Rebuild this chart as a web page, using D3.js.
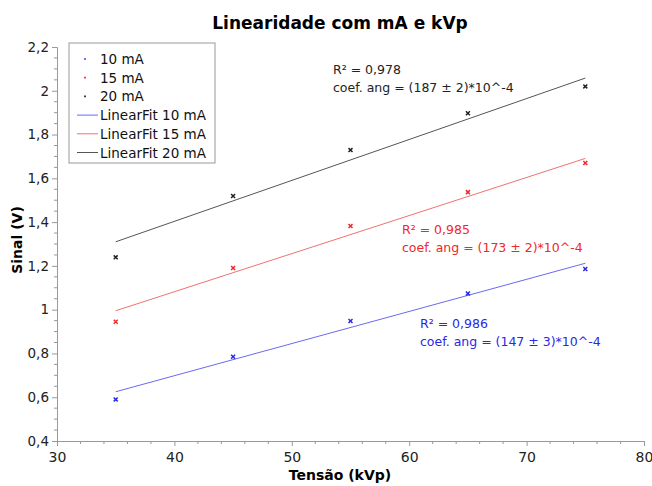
<!DOCTYPE html>
<html><head><meta charset="utf-8">
<script src="https://cdn.jsdelivr.net/npm/d3@7"></script>
<style>body{margin:0;background:#fff;} svg{display:block;}</style>
</head><body>
<svg id="c" width="652" height="486"></svg>
<script>
const kvp = [35, 45, 55, 65, 75];
const sig10 = [0.590, 0.785, 0.948, 1.074, 1.186];
const sig15 = [0.945, 1.190, 1.382, 1.537, 1.670];
const sig20 = [1.239, 1.519, 1.729, 1.897, 2.020];
const fitX = [35, 75];
const fit10 = [0.625, 1.212];
const fit15 = [0.995, 1.691];
const fit20 = [1.310, 2.058];
const seriesNames = ["10 mA", "15 mA", "20 mA"];
const fitNames = ["LinearFit 10 mA", "LinearFit 15 mA", "LinearFit 20 mA"];
const r2Labels = ["R² = 0,986", "R² = 0,985", "R² = 0,978"];
const coefLabels = ["coef. ang = (147 ± 3)*10^-4", "coef. ang = (173 ± 2)*10^-4", "coef. ang = (187 ± 2)*10^-4"];
const xTicks = [30, 40, 50, 60, 70, 80];
const yTicks = [0.4, 0.6, 0.8, 1, 1.2, 1.4, 1.6, 1.8, 2, 2.2];

const colors = ["#2828e8", "#f02828", "#222222"];
const lineColors = ["#6a6af0", "#f27070", "#555555"];
const font = "'DejaVu Sans', Verdana, sans-serif";

const svg = d3.select("#c");
const x = d3.scaleLinear().domain([30, 80]).range([57, 644]);
const y = d3.scaleLinear().domain([0.4, 2.2]).range([441, 47]);
const fmt = d => String(d).replace(".", ",");

// Title
svg.append("text").attr("x", 340).attr("y", 29).attr("text-anchor", "middle")
  .style("font-family", font).style("font-weight", "bold").style("font-size", "17px").text("Linearidade com mA e kVp");

// X axis
const xAxis = d3.axisBottom(x).tickValues(xTicks).tickFormat(fmt).tickSize(5).tickPadding(6);
const gx = svg.append("g").attr("transform", "translate(0,441)").call(xAxis);
const xMinor = d3.range(30, 80.01, 2).filter(v => v % 10 !== 0);
gx.selectAll(".minor").data(xMinor).enter().append("line").attr("class", "minor")
  .attr("x1", d => x(d)).attr("x2", d => x(d)).attr("y1", 0).attr("y2", 3);
// Y axis
const yAxis = d3.axisLeft(y).tickValues(yTicks).tickFormat(fmt).tickSize(5).tickPadding(3);
const gy = svg.append("g").attr("transform", "translate(57,0)").call(yAxis);
const yMinor = d3.range(0.4, 2.2001, 0.05).filter(v => Math.abs(Math.round(v * 5) - v * 5) > 1e-6);
gy.selectAll(".minor").data(yMinor).enter().append("line").attr("class", "minor")
  .attr("x1", 0).attr("x2", -3).attr("y1", d => y(d)).attr("y2", d => y(d));
[gx, gy].forEach(g => {
  g.select(".domain").attr("stroke", "#999");
  g.selectAll("line").attr("stroke", "#999");
  g.selectAll("text").style("font-family", font).style("font-size", "13.5px").attr("fill", "#222");
});
gx.selectAll(".tick text").style("font-size", "14px");

// Axis titles
svg.append("text").attr("x", 340).attr("y", 480).attr("text-anchor", "middle")
  .style("font-family", font).style("font-weight", "bold").style("font-size", "14px").text("Tensão (kVp)");
svg.append("text").attr("transform", "translate(22,240) rotate(-90)").attr("text-anchor", "middle")
  .style("font-family", font).style("font-weight", "bold").style("font-size", "14px").text("Sinal (V)");

// Fits
const fits = [fit10, fit15, fit20];
const line = d3.line().x(d => x(d[0])).y(d => y(d[1]));
fits.forEach((f, i) => {
  svg.append("path").datum(fitX.map((xv, j) => [xv, f[j]])).attr("d", line)
    .attr("fill", "none").attr("stroke", lineColors[i]).attr("stroke-width", 1);
});
// Points
const sigs = [sig10, sig15, sig20];
const sym = d3.symbol().type(d3.symbolX).size(12);
sigs.forEach((s, i) => {
  svg.append("g").selectAll("path").data(kvp.map((k, j) => [k, s[j]])).enter().append("path")
    .attr("d", sym).attr("transform", d => `translate(${x(d[0])},${y(d[1])})`)
    .attr("stroke", colors[i]).attr("stroke-width", 1.5).attr("fill", "none");
});

// Annotations
const annPos = [[420, 328], [402, 234], [333, 74]];
annPos.forEach((p, i) => {
  svg.append("text").attr("x", p[0]).attr("y", p[1]).attr("fill", colors[i])
    .style("font-family", font).style("font-size", "12.5px").text(r2Labels[i]);
  svg.append("text").attr("x", p[0]).attr("y", p[1] + 18).attr("fill", colors[i])
    .style("font-family", font).style("font-size", "12.5px").text(coefLabels[i]);
});

// Legend
const lg = svg.append("g");
lg.append("rect").attr("x", 69).attr("y", 43).attr("width", 146).attr("height", 120)
  .attr("fill", "#fff").attr("stroke", "#999").attr("stroke-width", 1);
const rowY = i => 59 + i * 18.7;
seriesNames.forEach((n, i) => {
  lg.append("path").attr("d", d3.symbol().type(d3.symbolSquare).size(3)())
    .attr("transform", `translate(85,${rowY(i)})`).attr("fill", colors[i]);
  lg.append("text").attr("x", 100).attr("y", rowY(i) + 5).style("font-family", font).style("font-size", "13.5px")
    .attr("fill", "#111").text(n);
});
fitNames.forEach((n, k) => {
  const i = k + 3;
  lg.append("line").attr("x1", 77).attr("x2", 98).attr("y1", rowY(i)).attr("y2", rowY(i))
    .attr("stroke", lineColors[k]).attr("stroke-width", 1);
  lg.append("text").attr("x", 100).attr("y", rowY(i) + 5).style("font-family", font).style("font-size", "13.5px")
    .attr("fill", "#111").text(n);
});
</script>
</body></html>
